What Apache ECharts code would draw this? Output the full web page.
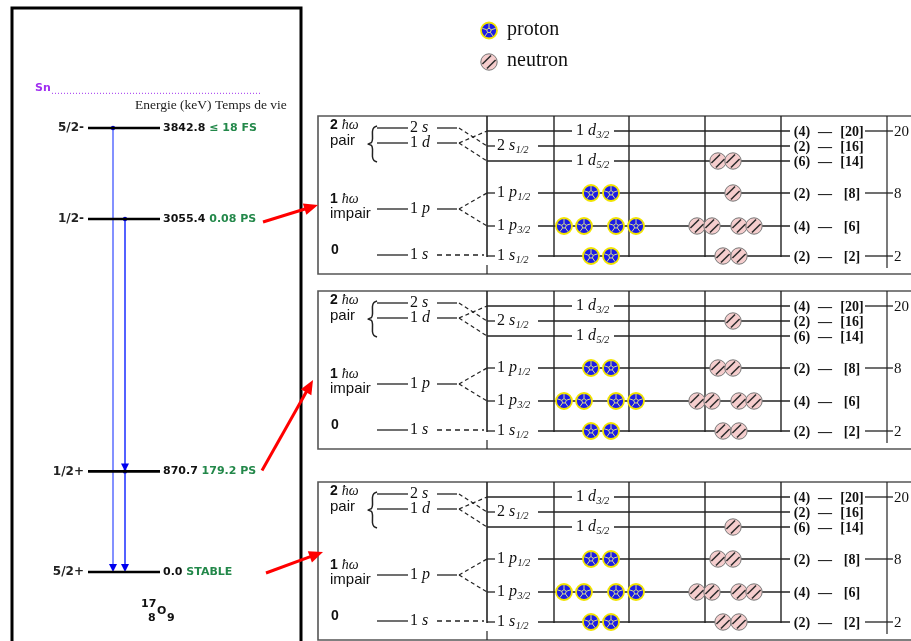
<!DOCTYPE html>
<html><head><meta charset="utf-8">
<script src="https://cdn.jsdelivr.net/npm/echarts@6/dist/echarts.min.js"></script>
<style>html,body{margin:0;padding:0;background:#fff}#c{width:911px;height:641px}</style>
</head><body><div id="c"></div>
<script>
// ---------------- DATA ----------------
const levelSpins = ['5/2+', '1/2+', '1/2-', '5/2-'];
const levelEnergies = [0.0, 870.7, 3055.4, 3842.8];
const levelEnergyLabels = ['0.0', '870.7', '3055.4', '3842.8'];
const levelLifetimes = ['STABLE', '179.2 PS', '0.08 PS', '\u2264 18 FS'];
const neutronSeparation = 4143;
const gammaFrom = [3842.8, 3055.4, 870.7];
const gammaTo = [0.0, 870.7, 0.0];

const oscGroupLabels = ['0', '1', '2'];
const oscGroupParity = ['', 'impair', 'pair'];
const oscShells = ['1 s', '1 p', '1 d', '2 s'];
const orbitalShell = ['1 s', '1 p', '1 p', '1 d', '2 s', '1 d'];
const orbitalJ = ['1/2', '3/2', '1/2', '5/2', '1/2', '3/2'];
const orbitalDegeneracy = [2, 4, 2, 6, 2, 4];
const cumulativeCount = [2, 6, 8, 14, 16, 20];
const magicNumbers = [2, 8, 20];
const protonOccupation = [2, 4, 2, 0, 0, 0];
const neutronOccupation = [
  [2, 4, 1, 2, 0, 0],
  [2, 4, 2, 0, 1, 0],
  [2, 4, 2, 1, 0, 0]
];
const panelStateEnergy = [3055.4, 870.7, 0.0];
const legendNames = ['proton', 'neutron'];

// ---------------- LAYOUT (positions / styles) ----------------
const PX_PER_KEV = 444 / 3842.8;
const PANEL_TOP = [116, 291, 482];
const ORB_DY = [140, 110, 77, 45, 30, 15];
const OSC_DY = [139, 93, 27, 12];
const GROUP_DY = [[134], [83, 98], [9, 25]];
const PROTON_SLOTS = [[591, 611], [564, 584, 616, 636], [591, 611], [591, 611], [591, 611], [574, 594, 614, 634]];
const NEUTRON_SLOTS = [[723, 739], [697, 712, 739, 754], [718, 733], [718, 733], [718, 733], [704, 719, 733, 748]];
const GAMMA_X = [113, 125, 125];
const GAMMA_COLOR = ['#5a6cff', '#1a2cff', '#1a2cff'];
const ARROW_START_X = [263, 262, 266];
const ARROW_DY = [3, -1, 1];
const ARROW_TIP = [[318, 205], [313, 380], [323, 552]];
const GREEN = '#23884a';
const PURPLE = '#a030f0';

const mctx = document.createElement('canvas').getContext('2d');
function tw(s, font) { mctx.font = font; return mctx.measureText(s).width; }

function protonEls(c, r) {
  const [cx, cy] = c;
  const els = [{ type: 'circle', shape: { cx, cy, r }, style: { fill: '#1c1ce6', stroke: '#f2e400', lineWidth: 1.8 } }];
  const pts = [];
  for (let k = 0; k < 5; k++) {
    const a = -Math.PI / 2 + k * 2 * Math.PI / 5;
    pts.push([cx + 2.4 * Math.cos(a), cy + 2.4 * Math.sin(a)]);
    els.push({ type: 'line', shape: { x1: cx + 2.4 * Math.cos(a), y1: cy + 2.4 * Math.sin(a), x2: cx + (r - 1) * Math.cos(a), y2: cy + (r - 1) * Math.sin(a) }, style: { stroke: '#d9dc8a', lineWidth: 1 } });
  }
  els.push({ type: 'polygon', shape: { points: pts }, style: { fill: 'none', stroke: '#d9dc8a', lineWidth: 1 } });
  return els;
}
function neutronEls(c, r) {
  const [cx, cy] = c;
  const els = [{ type: 'circle', shape: { cx, cy, r }, style: { fill: '#f5cdcd', stroke: '#777', lineWidth: 1 } }];
  const s = Math.SQRT1_2;
  [-3.2, 3.2].forEach(o => {
    const h = Math.sqrt(Math.max(0, (r - 1.3) * (r - 1.3) - o * o));
    const mx = cx + o * s, my = cy + o * s;
    els.push({ type: 'line', shape: { x1: mx - h * s, y1: my + h * s, x2: mx + h * s, y2: my - h * s }, style: { stroke: '#2a2a2a', lineWidth: 1.5 } });
  });
  return els;
}

// ---------------- RENDERERS ----------------
function renderStatic(params, api) {
  const P = (x, y) => api.coord([x, y]);
  const ch = [];
  const a = P(12, 8), b = P(301, 700);
  ch.push({ type: 'rect', shape: { x: a[0], y: a[1], width: b[0] - a[0], height: b[1] - a[1] }, style: { fill: 'none', stroke: '#000', lineWidth: 3 } });
  const h = P(135, 105);
  ch.push({ type: 'text', style: { text: 'Energie (keV) Temps de vie', x: h[0], y: h[1], font: '13.5px "Liberation Serif"', fill: '#222', verticalAlign: 'middle' } });
  // nucleus label
  const nf = 'bold 11px "DejaVu Sans"';
  [['17', 141, 604], ['8', 148, 618], ['O', 157, 611], ['9', 167, 618]].forEach(t => {
    const q = P(t[1], t[2]);
    ch.push({ type: 'text', style: { text: t[0], x: q[0], y: q[1], font: nf, fill: '#111', verticalAlign: 'middle' } });
  });
  // legend
  legendNames.forEach((nm, i) => {
    const c = P(489, i === 0 ? 30.5 : 62);
    const els = i === 0 ? protonEls(c, 8) : neutronEls(c, 8.2);
    els.forEach(e => ch.push(e));
    const t = P(507, i === 0 ? 29.5 : 61);
    ch.push({ type: 'text', style: { text: nm, x: t[0], y: t[1], font: '20px "Liberation Serif"', fill: '#111', verticalAlign: 'middle' } });
  });
  return { type: 'group', children: ch };
}

function renderPanel(params, api) {
  const p = api.value(0);
  const T = PANEL_TOP[p];
  const P = (x, y) => api.coord([x, T + y]);
  const ch = [];
  const L = (x1, y1, x2, y2, st) => { const a = P(x1, y1), b = P(x2, y2); ch.push({ type: 'line', shape: { x1: a[0], y1: a[1], x2: b[0], y2: b[1] }, style: Object.assign({ stroke: '#222', lineWidth: 1.3 }, st || {}) }); };
  const Tx = (s, x, y, font, extra) => { const a = P(x, y); ch.push({ type: 'text', style: Object.assign({ text: s, x: a[0], y: a[1], font, fill: '#111', align: 'left', verticalAlign: 'middle' }, extra || {}) }); };
  const serif = '16px "Liberation Serif"', iserif = 'italic 16px "Liberation Serif"', sub = 'italic 10px "Liberation Serif"';
  const NL = (nl, x, y, j) => {
    const parts = nl.split(' ');
    const w1 = tw(parts[0] + ' ', serif);
    Tx(parts[0] + ' ', x, y, serif);
    Tx(parts[1], x + w1, y, iserif);
    if (j) Tx(j, x + w1 + tw(parts[1], iserif) + 0.5, y + 4, sub);
  };
  // box
  const b0 = P(318, 0), b1 = P(938, 158);
  ch.push({ type: 'rect', shape: { x: b0[0], y: b0[1], width: b1[0] - b0[0], height: b1[1] - b0[1] }, style: { fill: 'none', stroke: '#555', lineWidth: 1.6 } });
  // group labels
  oscGroupLabels.forEach((g, k) => {
    const dy = GROUP_DY[k];
    if (k === 0) {
      Tx(g, 331, dy[0], 'bold 14px "Liberation Sans"');
    } else {
      const a = P(330, dy[0]);
      ch.push({ type: 'text', style: { text: '{a|' + g + ' }{b|\u0127\u03c9}', x: a[0], y: a[1], verticalAlign: 'middle', rich: { a: { fontSize: 14, fontWeight: 'bold', fontFamily: 'Liberation Sans', fill: '#111' }, b: { fontSize: 14, fontStyle: 'italic', fontFamily: 'Liberation Serif', fill: '#111' } } } });
      Tx(oscGroupParity[k], 330, dy[1], '15px "Liberation Sans"');
    }
  });
  // brace
  const br = [[377, 10], [374, 11.5], [372.5, 15], [372.5, 23], [371.5, 26.5], [368, 28], [371.5, 29.5], [372.5, 33], [372.5, 41], [374, 44.5], [377, 46]].map(q => P(q[0], q[1]));
  ch.push({ type: 'polyline', shape: { points: br, smooth: 0.2 }, style: { fill: 'none', stroke: '#222', lineWidth: 1.5 } });
  // oscillator shells
  oscShells.forEach((nl, k) => {
    const y = OSC_DY[k];
    L(377, y, 408, y);
    NL(nl, 410, y, null);
    if (k === 0) {
      L(437, y, 484, y, { lineDash: [5, 4] });
    } else {
      L(437, y, 457, y);
    }
  });
  // dashed connectors
  orbitalShell.forEach((nl, i) => {
    const k = oscShells.indexOf(nl);
    if (k === 0) return;
    L(459, OSC_DY[k], 487, ORB_DY[i], { lineDash: [4, 3], lineWidth: 1.2 });
  });
  // main vertical
  L(487, 0, 487, 141, { lineWidth: 1.6 });
  L(487, 149, 487, 158, { lineWidth: 1.2 });
  // columns
  [554, 629, 705, 781].forEach(x => L(x, 0, x, 141, { lineWidth: 1.4 }));
  L(887, 0, 887, 152, { lineWidth: 1.2 });
  // orbitals
  orbitalShell.forEach((nl, i) => {
    const y = ORB_DY[i];
    const inline = nl.split(' ')[1] === 'd';
    if (inline) {
      L(487, y, 572, y);
      NL(nl, 576, y, orbitalJ[i]);
      L(614, y, 790, y);
    } else {
      L(487, y, 495, y);
      NL(nl, 497, y, orbitalJ[i]);
      L(538, y, 790, y);
    }
    const rf = 'bold 14px "Liberation Serif"';
    Tx('(' + orbitalDegeneracy[i] + ')', 802, y + 1, rf, { align: 'center' });
    Tx('\u2014', 825, y + 1, rf, { align: 'center' });
    Tx('[' + cumulativeCount[i] + ']', 852, y + 1, rf, { align: 'center' });
    if (magicNumbers.indexOf(cumulativeCount[i]) >= 0) {
      L(865, y, 893, y);
      Tx(String(cumulativeCount[i]), 894, y + 1, '15px "Liberation Serif"');
    }
  });
  // particles
  orbitalShell.forEach((nl, i) => {
    const y = ORB_DY[i];
    const np = protonOccupation[i];
    PROTON_SLOTS[i].slice(PROTON_SLOTS[i].length - np).forEach(x => protonEls(P(x, y), 8).forEach(e => ch.push(e)));
    const nn = neutronOccupation[p][i];
    NEUTRON_SLOTS[i].slice(NEUTRON_SLOTS[i].length - nn).forEach(x => neutronEls(P(x, y), 8.2).forEach(e => ch.push(e)));
  });
  return { type: 'group', children: ch };
}

function renderSn(params, api) {
  const a = api.coord([52, api.value(1)]), b = api.coord([262, api.value(1)]);
  return { type: 'group', children: [
    { type: 'line', shape: { x1: a[0], y1: a[1], x2: b[0], y2: b[1] }, style: { stroke: PURPLE, lineWidth: 1, lineDash: [1, 2] } },
    { type: 'text', style: { text: 'Sn', x: 35, y: a[1] - 5, font: 'bold 11px "DejaVu Sans"', fill: PURPLE, verticalAlign: 'middle' } }
  ] };
}

function renderLevel(params, api) {
  const i = api.value(0), E = api.value(1);
  const a = api.coord([88, E]), b = api.coord([160, E]);
  const ef = 'bold 11px "DejaVu Sans"';
  const et = levelEnergyLabels[i] + ' ';
  return { type: 'group', children: [
    { type: 'line', shape: { x1: a[0], y1: a[1], x2: b[0], y2: b[1] }, style: { stroke: '#000', lineWidth: 2.6 } },
    { type: 'text', style: { text: levelSpins[i], x: a[0] - 4, y: a[1], font: 'bold 12px "DejaVu Sans"', fill: '#222', align: 'right', verticalAlign: 'middle' } },
    { type: 'text', style: { text: et, x: b[0] + 3, y: a[1], font: ef, fill: '#111', verticalAlign: 'middle' } },
    { type: 'text', style: { text: levelLifetimes[i], x: b[0] + 3 + tw(et, ef), y: a[1], font: ef, fill: GREEN, verticalAlign: 'middle' } }
  ] };
}

function renderGamma(params, api) {
  const i = api.value(0);
  const a = api.coord([GAMMA_X[i], api.value(1)]), b = api.coord([GAMMA_X[i], api.value(2)]);
  const c = GAMMA_COLOR[i];
  return { type: 'group', children: [
    { type: 'line', shape: { x1: a[0], y1: a[1], x2: b[0], y2: b[1] - 5 }, style: { stroke: c, lineWidth: 1.5 } },
    { type: 'circle', shape: { cx: a[0], cy: a[1], r: 2.2 }, style: { fill: '#0000dd' } },
    { type: 'polygon', shape: { points: [[b[0] - 4, b[1] - 8], [b[0] + 4, b[1] - 8], [b[0], b[1]]] }, style: { fill: '#0000ee' } }
  ] };
}

function renderArrow(params, api) {
  const p = api.value(0);
  const s = api.coord([ARROW_START_X[p], api.value(1)]);
  s[1] += ARROW_DY[p];
  const t = ARROW_TIP[p];
  const dx = t[0] - s[0], dy = t[1] - s[1], len = Math.hypot(dx, dy);
  const ux = dx / len, uy = dy / len, nx = -uy, ny = ux;
  const hl = 14, hw = 6;
  const bx = t[0] - ux * hl, by = t[1] - uy * hl;
  return { type: 'group', children: [
    { type: 'line', shape: { x1: s[0], y1: s[1], x2: bx + ux * 2, y2: by + uy * 2 }, style: { stroke: '#ff0000', lineWidth: 3 } },
    { type: 'polygon', shape: { points: [[t[0], t[1]], [bx + nx * hw, by + ny * hw], [bx - nx * hw, by - ny * hw]] }, style: { fill: '#ff0000' } }
  ] };
}

// ---------------- CHART ----------------
const chart = echarts.init(document.getElementById('c'), null, { renderer: 'canvas' });
const option = {
  animation: false,
  backgroundColor: '#ffffff',
  grid: [
    { left: 0, width: 911, top: 572 - 4600 * PX_PER_KEV, height: 5100 * PX_PER_KEV },
    { left: 0, top: 0, width: 911, height: 641 }
  ],
  xAxis: [
    { type: 'value', gridIndex: 0, min: 0, max: 911, show: false },
    { type: 'value', gridIndex: 1, min: 0, max: 911, show: false }
  ],
  yAxis: [
    { type: 'value', gridIndex: 0, min: -500, max: 4600, show: false },
    { type: 'value', gridIndex: 1, min: 0, max: 641, inverse: true, show: false }
  ],
  series: [
    { type: 'custom', xAxisIndex: 1, yAxisIndex: 1, silent: true, data: [[0, 0]], renderItem: renderStatic },
    { type: 'custom', xAxisIndex: 1, yAxisIndex: 1, silent: true, data: neutronOccupation.map((_, p) => [p, 0]), renderItem: renderPanel },
    { type: 'custom', xAxisIndex: 0, yAxisIndex: 0, silent: true, data: [[0, neutronSeparation]], renderItem: renderSn },
    { type: 'custom', xAxisIndex: 0, yAxisIndex: 0, silent: true, data: gammaFrom.map((f, i) => [i, f, gammaTo[i]]), renderItem: renderGamma },
    { type: 'custom', xAxisIndex: 0, yAxisIndex: 0, silent: true, data: levelEnergies.map((e, i) => [i, e]), renderItem: renderLevel },
    { type: 'custom', xAxisIndex: 0, yAxisIndex: 0, silent: true, data: panelStateEnergy.map((e, p) => [p, e]), renderItem: renderArrow }
  ]
};
chart.setOption(option);
</script>
</body></html>
